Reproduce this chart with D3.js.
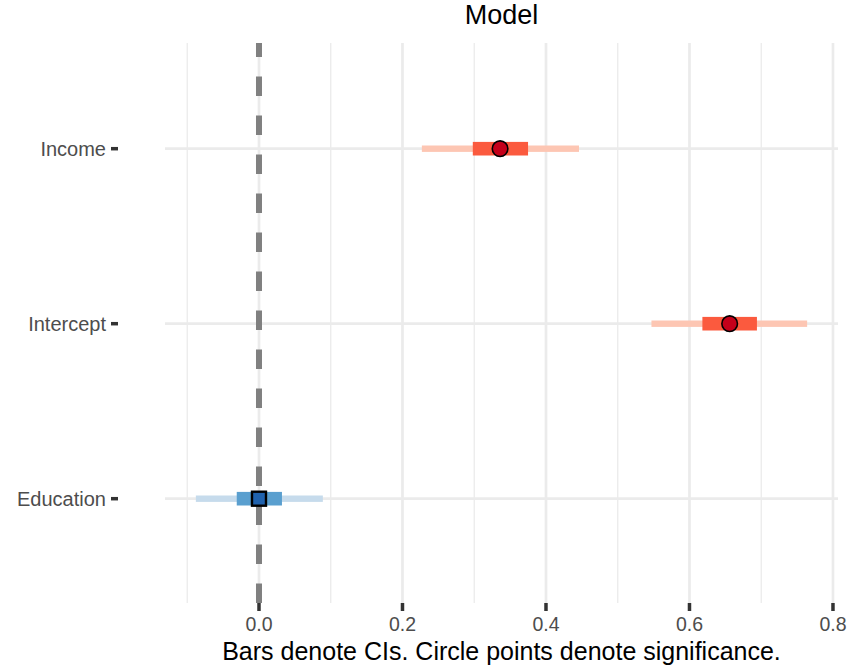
<!DOCTYPE html>
<html>
<head>
<meta charset="utf-8">
<script src="https://cdn.jsdelivr.net/npm/d3@7"></script>
<style>
  body { margin: 0; background: #fff; }
  text { font-family: "Liberation Sans", Arial, sans-serif; }
</style>
</head>
<body>
<svg id="chart" width="850" height="669"></svg>
<script>
// Terms, top to bottom
const terms = ["Income", "Intercept", "Education"];
const estimates = [0.336, 0.656, 0.0];
const innerLow = [0.298, 0.618, -0.031];
const innerHigh = [0.375, 0.694, 0.032];
const outerLow = [0.227, 0.547, -0.088];
const outerHigh = [0.446, 0.764, 0.089];
const significant = [true, true, false];
const xTicks = [0, 0.2, 0.4, 0.6, 0.8];
const xMinorTicks = [-0.1, 0.1, 0.3, 0.5, 0.7];

const rows = terms.map((t, i) => ({
  term: t, est: estimates[i],
  lo1: innerLow[i], hi1: innerHigh[i],
  lo2: outerLow[i], hi2: outerHigh[i],
  sig: significant[i]
}));

const svg = d3.select("#chart");
const panel = { left: 165, right: 838, top: 43, bottom: 603 };

const x = d3.scaleLinear()
  .domain([-0.131, 0.807])
  .range([panel.left, panel.right]);

const y = d3.scalePoint()
  .domain(terms)
  .range([panel.top + 0.7, panel.bottom + 0.7])
  .padding(0.6);

// Grid
const grid = svg.append("g");
grid.selectAll(".minor")
  .data(xMinorTicks)
  .enter().append("line")
  .attr("x1", d => x(d)).attr("x2", d => x(d))
  .attr("y1", panel.top).attr("y2", panel.bottom)
  .attr("stroke", "#ebebeb").attr("stroke-width", 1.3);
grid.selectAll(".major")
  .data(xTicks)
  .enter().append("line")
  .attr("x1", d => x(d)).attr("x2", d => x(d))
  .attr("y1", panel.top).attr("y2", panel.bottom)
  .attr("stroke", "#ebebeb").attr("stroke-width", 2.7);
grid.selectAll(".hrow")
  .data(terms)
  .enter().append("line")
  .attr("x1", panel.left).attr("x2", panel.right)
  .attr("y1", d => y(d)).attr("y2", d => y(d))
  .attr("stroke", "#ebebeb").attr("stroke-width", 2.7);

// Reference line at zero, drawn bottom-up so dashes line up like the original
svg.append("line")
  .attr("x1", x(0)).attr("x2", x(0))
  .attr("y1", panel.bottom).attr("y2", panel.top)
  .attr("stroke", "#808080")
  .attr("stroke-width", 6)
  .attr("stroke-dasharray", "19.5,19.5");

// Interval bars
const colors = {
  sig: { outer: "#fdc6b3", inner: "#fb5a3e", point: "#c4001a" },
  ns: { outer: "#c6dbec", inner: "#5a9fcf", point: "#2062ad" }
};

const g = svg.append("g");
g.selectAll(".outer")
  .data(rows)
  .enter().append("rect")
  .attr("x", d => x(d.lo2))
  .attr("width", d => x(d.hi2) - x(d.lo2))
  .attr("y", d => y(d.term) - 3.2)
  .attr("height", 6.4)
  .attr("fill", d => d.sig ? colors.sig.outer : colors.ns.outer);

g.selectAll(".inner")
  .data(rows)
  .enter().append("rect")
  .attr("x", d => x(d.lo1))
  .attr("width", d => x(d.hi1) - x(d.lo1))
  .attr("y", d => y(d.term) - 6.8)
  .attr("height", 13.6)
  .attr("fill", d => d.sig ? colors.sig.inner : colors.ns.inner);

// Points: circles for significant, squares otherwise
g.selectAll(".pt-circle")
  .data(rows.filter(d => d.sig))
  .enter().append("circle")
  .attr("cx", d => x(d.est))
  .attr("cy", d => y(d.term))
  .attr("r", 7.8)
  .attr("fill", colors.sig.point)
  .attr("stroke", "#000")
  .attr("stroke-width", 1.6);

g.selectAll(".pt-square")
  .data(rows.filter(d => !d.sig))
  .enter().append("rect")
  .attr("x", d => x(d.est) - 7)
  .attr("y", d => y(d.term) - 7)
  .attr("width", 14)
  .attr("height", 14)
  .attr("fill", colors.ns.point)
  .attr("stroke", "#000")
  .attr("stroke-width", 2.4);

// X axis ticks and labels
const xAxis = svg.append("g");
xAxis.selectAll(".tick")
  .data(xTicks)
  .enter().append("line")
  .attr("x1", d => x(d)).attr("x2", d => x(d))
  .attr("y1", panel.bottom).attr("y2", panel.bottom + 8)
  .attr("stroke", "#333").attr("stroke-width", 3.5);
xAxis.selectAll(".lbl")
  .data(xTicks)
  .enter().append("text")
  .attr("x", d => x(d))
  .attr("y", 630.5)
  .attr("text-anchor", "middle")
  .attr("font-size", "19.5px")
  .attr("fill", "#4d4d4d")
  .text(d => d3.format(".1f")(d));

// Y axis ticks and labels
const yAxis = svg.append("g");
yAxis.selectAll(".tick")
  .data(terms)
  .enter().append("line")
  .attr("x1", panel.left - 54).attr("x2", panel.left - 47)
  .attr("y1", d => y(d)).attr("y2", d => y(d))
  .attr("stroke", "#333").attr("stroke-width", 3.5);
yAxis.selectAll(".lbl")
  .data(terms)
  .enter().append("text")
  .attr("x", 106)
  .attr("y", d => y(d) + 7)
  .attr("text-anchor", "end")
  .attr("font-size", "20px")
  .attr("fill", "#4d4d4d")
  .text(d => d);

// Title and axis title
svg.append("text")
  .attr("x", (panel.left + panel.right) / 2)
  .attr("y", 24)
  .attr("text-anchor", "middle")
  .attr("font-size", "27px")
  .attr("fill", "#000")
  .text("Model");

svg.append("text")
  .attr("x", (panel.left + panel.right) / 2)
  .attr("y", 660)
  .attr("text-anchor", "middle")
  .attr("font-size", "25px")
  .attr("fill", "#000")
  .text("Bars denote CIs. Circle points denote significance.");
</script>
</body>
</html>
